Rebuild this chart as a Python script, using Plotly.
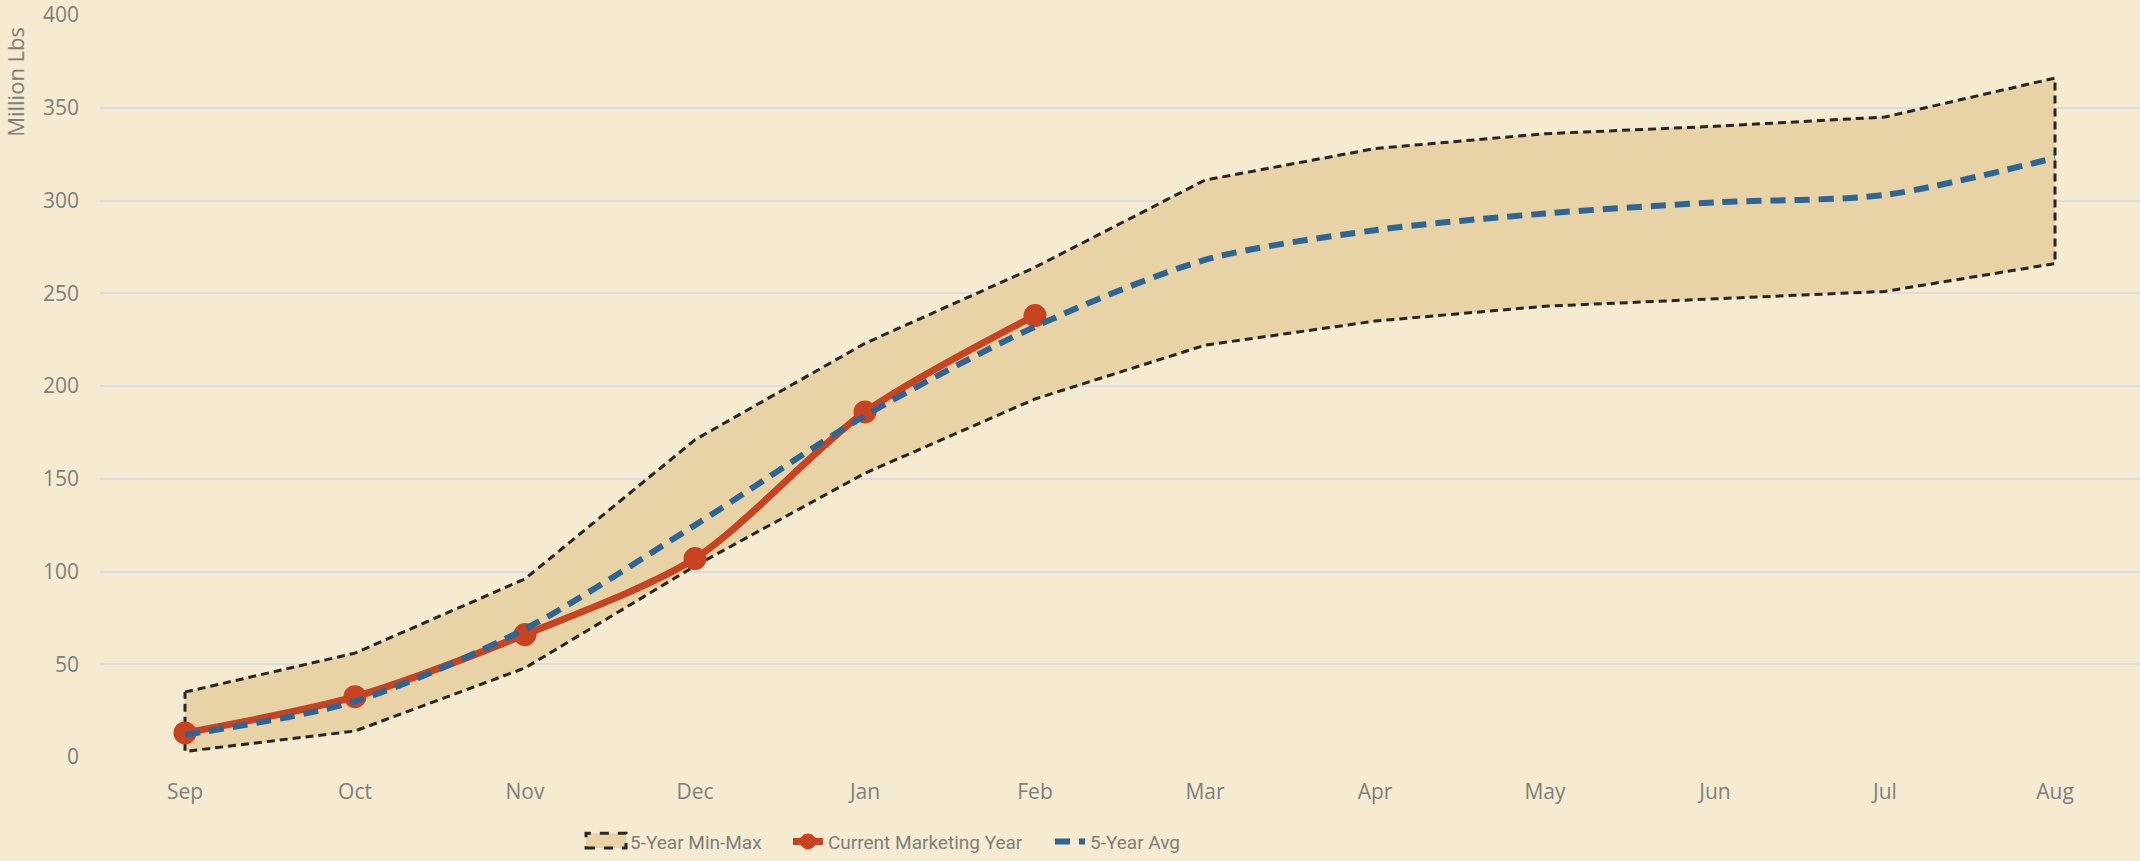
import plotly.graph_objects as go

months = ["Sep", "Oct", "Nov", "Dec", "Jan", "Feb", "Mar", "Apr", "May", "Jun", "Jul", "Aug"]
max_vals = [35, 56, 96, 171, 223, 264, 311, 328, 336, 340, 345, 366]
min_vals = [3, 14, 48, 103, 153, 193, 222, 235, 243, 247, 251, 266]
avg_vals = [12, 30, 69, 125, 184, 232, 268, 284, 293, 299, 303, 323]
cur_months = ["Sep", "Oct", "Nov", "Dec", "Jan", "Feb"]
cur_vals = [13, 32.5, 66, 107, 186, 238]

bg = "#F5EBD0"
fill = "#E8D3A6"
red = "#C74322"
blue = "#2D6596"
grey = "#7F7F7F"
black = "#262626"

band_x = months + months[::-1] + [months[0]]
band_y = max_vals + min_vals[::-1] + [max_vals[0]]

fig = go.Figure()
fig.add_trace(go.Scatter(
    x=band_x, y=band_y, fill="toself", fillcolor=fill, mode="lines",
    line=dict(color=black, width=3, dash="8px,5px"),
    name="5-Year Min-Max", hoverinfo="skip", showlegend=False))
# legend entry for the band (swatch drawn as a shape below)
fig.add_trace(go.Scatter(
    x=[None], y=[None], mode="lines", line=dict(color="rgba(0,0,0,0)", width=0),
    name="5-Year Min-Max", legend="legend"))
fig.add_trace(go.Scatter(
    x=cur_months, y=cur_vals, mode="lines+markers",
    line=dict(color=red, width=7, shape="spline", smoothing=0.8),
    marker=dict(color=red, size=23),
    name="Current Marketing Year", legend="legend2"))
fig.add_trace(go.Scatter(
    x=months, y=avg_vals, mode="lines",
    line=dict(color=blue, width=6, dash="15px,9px", shape="spline", smoothing=0.8),
    name="5-Year Avg", legend="legend3"))

legend_font = dict(family="Roboto, sans-serif", size=19, color=grey)
def leg(px):
    return dict(orientation="h", x=(px - 100) / 2040, xanchor="left", y=-0.114, yanchor="middle",
                font=legend_font, bgcolor="rgba(0,0,0,0)", itemwidth=30)

fig.update_layout(
    width=2140, height=861,
    paper_bgcolor=bg, plot_bgcolor=bg,
    margin=dict(l=100, r=0, t=12, b=99),
    font=dict(family="Open Sans, sans-serif", size=21, color=grey),
    showlegend=True,
    legend=leg(590),
    legend2=leg(788),
    legend3=leg(1050),
    xaxis=dict(type="category", categoryorder="array", categoryarray=months,
               range=[-0.5, 11.5], showgrid=False, zeroline=False, showline=False,
               ticks="", ticklabelstandoff=20, fixedrange=True),
    yaxis=dict(range=[0, 400], dtick=50, showgrid=True, gridcolor="#DCDCDC", gridwidth=2,
               zeroline=False, showline=False, ticks="", ticklabelstandoff=20,
               ticklabeloverflow="allow", fixedrange=True),
    annotations=[dict(text="Million Lbs", textangle=-90, xref="paper", yref="paper",
                      x=-0.0417, y=(762 - 22) / 750, xanchor="center", yanchor="top", showarrow=False,
                      font=dict(family="Open Sans, sans-serif", size=22, color=grey))],
    shapes=[dict(type="rect", xref="paper", yref="paper",
                 x0=(586 - 100) / 2040, x1=(626 - 100) / 2040,
                 y0=(762 - 854) / 750, y1=(762 - 839) / 750,
                 fillcolor=fill, line=dict(color=black, width=3, dash="dash"))],
)

fig.write_html("out.html", config={"displayModeBar": False},
               post_script="document.body.style.margin='0';document.body.style.overflow='hidden';")
